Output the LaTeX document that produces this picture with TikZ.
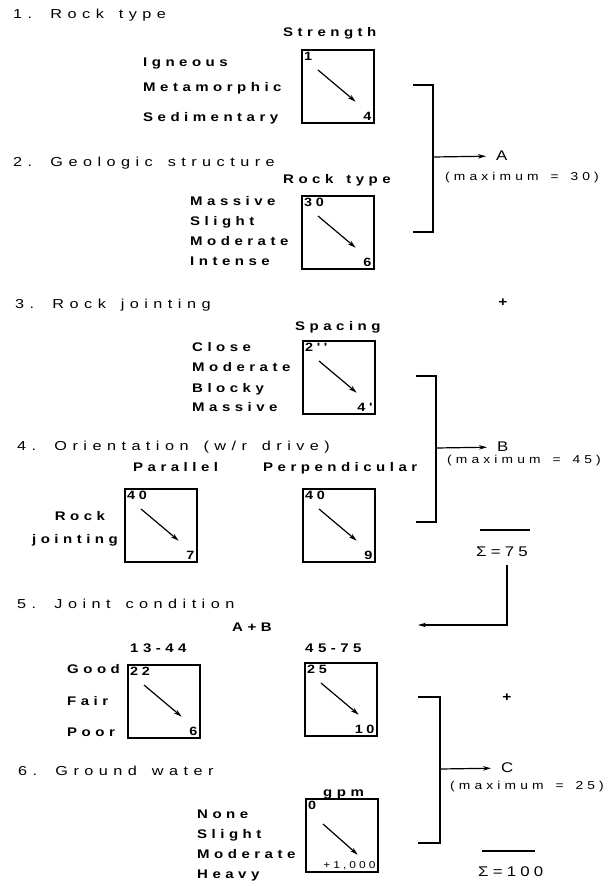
\documentclass[tikz,border=0pt]{standalone}
\usepackage{fontspec}
\usepackage{tikz}
\usetikzlibrary{arrows.meta}
\newfontfamily\titlefont[LetterSpace=42, WordSpace=1.5, FakeStretch=1.25]{Liberation Sans}
\newfontfamily\labelfont[LetterSpace=36, WordSpace=1.5, FakeStretch=1.2]{Liberation Sans}
\newfontfamily\maxfont[LetterSpace=36, WordSpace=1.5, FakeStretch=1.2]{Liberation Sans}
\newfontfamily\numfont[LetterSpace=30, FakeStretch=1.2]{Liberation Sans}

\begin{document}
\begin{tikzpicture}[
            x = 1pt, y = -1pt, % pixel grid, y runs downwards
            > = {Stealth[length=8pt, width=4.5pt]}, % arrow head style
            title/.style = {anchor=west, inner sep=0pt, text height=10pt, text depth=2.5pt,
                font=\titlefont\fontsize{13}{15}\selectfont},
            lbl/.style = {anchor=west, inner sep=0pt, text height=9pt, text depth=2pt,
                font=\labelfont\bfseries\fontsize{12.5}{14}\selectfont},
            gauge/.style = {draw, anchor=north west, line width=1.7pt,
                minimum width=72pt, minimum height=73pt, inner sep=0pt},
            num/.style = {inner sep=3pt, font=\numfont\bfseries\fontsize{12}{14}\selectfont},
            result/.style = {anchor=west, inner sep=5pt, font=\numfont\fontsize{14}{16}\selectfont},
            maxlbl/.style = {anchor=west, inner sep=0pt, font=\maxfont\fontsize{11.5}{13}\selectfont},
            sumlbl/.style = {anchor=west, inner sep=0pt, font=\numfont\fontsize{14}{16}\selectfont},
            plus/.style = {inner sep=0pt, font=\numfont\bfseries\fontsize{13}{15}\selectfont},
            bracket/.style = {line width=1.4pt},
            flow/.style = {->, line width=1.2pt}
        ]
\useasboundingbox (0,0) rectangle (610,886);

% 1. Rock type
\node[title] (t1) at (13,15) {1. Rock type};
\node[lbl] (strength) at (283,33) {Strength};
\node[lbl] (igneous) at (143,63) {Igneous};
\node[lbl] (metamorphic) at (143,88) {Metamorphic};
\node[lbl] (sedimentary) at (143,118) {Sedimentary};
\node[gauge] (g1) at (301,49) {};
\node[num, anchor=north west] (g1top) at (g1.north west) {1};
\node[num, anchor=south east] (g1bot) at (g1.south east) {4};
\draw[flow] ([xshift=17pt, yshift=-21pt]g1.north west) -- ([xshift=-19pt, yshift=22pt]g1.south east);

% 2. Geologic structure
\node[title] (t2) at (13,163) {2. Geologic structure};
\node[lbl] (rocktype) at (283,180) {Rock type};
\node[lbl] (massive) at (190,202) {Massive};
\node[lbl] (slight) at (190,222) {Slight};
\node[lbl] (moderate) at (190,242) {Moderate};
\node[lbl] (intense) at (190,262) {Intense};
\node[gauge] (g2) at (301,195) {};
\node[num, anchor=north west] (g2top) at (g2.north west) {30};
\node[num, anchor=south east] (g2bot) at (g2.south east) {6};
\draw[flow] ([xshift=17pt, yshift=-21pt]g2.north west) -- ([xshift=-19pt, yshift=22pt]g2.south east);

% bracket A
\coordinate (brAtop) at (413,85);
\coordinate (brAmid) at (433,157);
\coordinate (brAbot) at (413,232);
\draw[bracket] (brAtop) -| (brAmid) |- (brAbot);
\node[result] (A) at (491,156) {A};
\node[maxlbl] (maxA) at (445,178) {(maximum = 30)};
\path[flow, shorten >=5pt] (brAmid) edge (A);
\node[plus] (plus1) at (503,303) {+};

% 3. Rock jointing
\node[title] (t3) at (15,305) {3. Rock jointing};
\node[lbl] (spacing) at (295,327) {Spacing};
\node[lbl] (close) at (192,348) {Close};
\node[lbl] (moderate3) at (192,368) {Moderate};
\node[lbl] (blocky) at (192,389) {Blocky};
\node[lbl] (massive3) at (192,408) {Massive};
\node[gauge] (g3) at (302,340) {};
\node[num, anchor=north west] (g3top) at (g3.north west) {2''};
\node[num, anchor=south east] (g3bot) at (g3.south east) {4'};
\draw[flow] ([xshift=17pt, yshift=-21pt]g3.north west) -- ([xshift=-19pt, yshift=22pt]g3.south east);

% 4. Orientation
\node[title] (t4) at (17,447) {4. Orientation (w/r drive)};
\node[lbl] (parallel) at (133,468) {Parallel};
\node[lbl] (perp) at (263,468) {Perpendicular};
\node[lbl, anchor=center] (rock4) at (80,517) {Rock};
\node[lbl, anchor=east] (jointing4) at (118,540) {jointing};
\node[gauge] (g4a) at (124,488) {};
\node[num, anchor=north west] (g4atop) at (g4a.north west) {40};
\node[num, anchor=south east] (g4abot) at (g4a.south east) {7};
\draw[flow] ([xshift=17pt, yshift=-21pt]g4a.north west) -- ([xshift=-19pt, yshift=22pt]g4a.south east);
\node[gauge] (g4b) at (302,488) {};
\node[num, anchor=north west] (g4btop) at (g4b.north west) {40};
\node[num, anchor=south east] (g4bbot) at (g4b.south east) {9};
\draw[flow] ([xshift=17pt, yshift=-21pt]g4b.north west) -- ([xshift=-19pt, yshift=22pt]g4b.south east);

% bracket B
\coordinate (brBtop) at (416,376);
\coordinate (brBmid) at (436,448);
\coordinate (brBbot) at (416,522);
\draw[bracket] (brBtop) -| (brBmid) |- (brBbot);
\node[result] (B) at (492,447) {B};
\node[maxlbl] (maxB) at (447,461) {(maximum = 45)};
\path[flow, shorten >=5pt] (brBmid) edge (B);
\draw[bracket] (480,530) -- (530,530);
\node[sumlbl] (sum75) at (476,552) {Σ=75};

% back to joint condition
\coordinate (sumTurn) at (507,565);
\coordinate (abIn) at (418,625);
\draw[flow] (sumTurn) |- (abIn);

% 5. Joint condition
\node[title] (t5) at (17,605) {5. Joint condition};
\node[lbl] (apb) at (232,628) {A+B};
\node[lbl] (low) at (130,649) {13-44};
\node[lbl] (high) at (305,649) {45-75};
\node[lbl] (good) at (67,670) {Good};
\node[lbl] (fair) at (67,702) {Fair};
\node[lbl] (poor) at (67,733) {Poor};
\node[gauge] (g5a) at (127,664) {};
\node[num, anchor=north west] (g5atop) at (g5a.north west) {22};
\node[num, anchor=south east] (g5abot) at (g5a.south east) {6};
\draw[flow] ([xshift=17pt, yshift=-21pt]g5a.north west) -- ([xshift=-19pt, yshift=22pt]g5a.south east);
\node[gauge] (g5b) at (304,662) {};
\node[num, anchor=north west] (g5btop) at (g5b.north west) {25};
\node[num, anchor=south east] (g5bbot) at (g5b.south east) {10};
\draw[flow] ([xshift=17pt, yshift=-21pt]g5b.north west) -- ([xshift=-19pt, yshift=22pt]g5b.south east);

% 6. Ground water
\node[title] (t6) at (18,772) {6. Ground water};
\node[lbl] (gpm) at (323,793) {gpm};
\node[lbl] (none) at (197,815) {None};
\node[lbl] (slight6) at (197,835) {Slight};
\node[lbl] (moderate6) at (197,855) {Moderate};
\node[lbl] (heavy) at (197,875) {Heavy};
\node[gauge] (g6) at (305,798) {};
\node[num, anchor=north west] (g6top) at (g6.north west) {0};
\node[num, anchor=south east, font=\numfont\fontsize{10}{12}\selectfont] (g6bot) at (g6.south east) {+1,000};
\draw[flow] ([xshift=18pt, yshift=-26pt]g6.north west) -- ([xshift=-21pt, yshift=18pt]g6.south east);

% bracket C
\coordinate (brCtop) at (418,697);
\coordinate (brCmid) at (440,769);
\coordinate (brCbot) at (418,843);
\draw[bracket] (brCtop) -| (brCmid) |- (brCbot);
\node[result] (C) at (496,768) {C};
\node[maxlbl] (maxC) at (450,787) {(maximum = 25)};
\path[flow, shorten >=5pt] (brCmid) edge (C);
\node[plus] (plus2) at (507,698) {+};
\draw[bracket] (482,851) -- (535,851);
\node[sumlbl] (sum100) at (478,872) {Σ=100};
\end{tikzpicture}
\end{document}
